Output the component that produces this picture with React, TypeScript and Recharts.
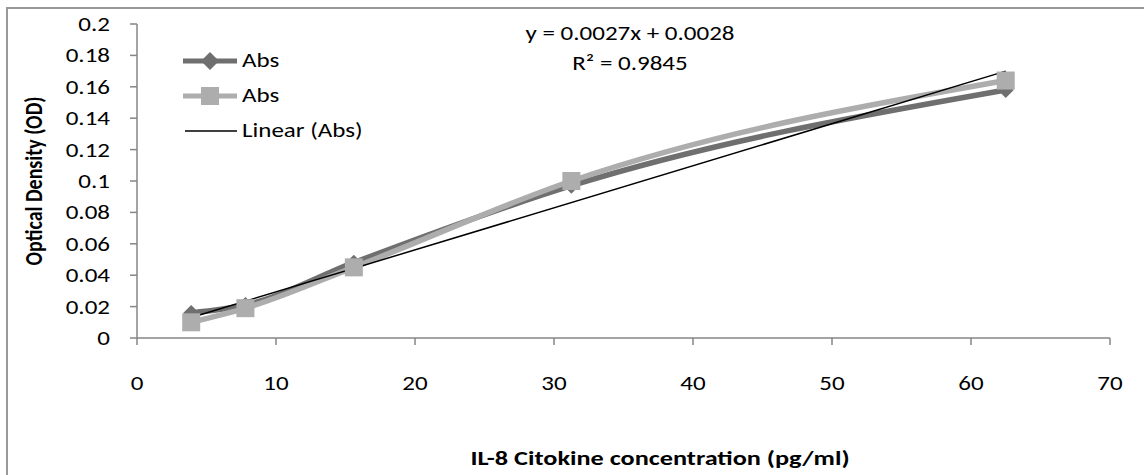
import { LineChart, Line, XAxis, YAxis } from 'recharts';

// concentrations (pg/ml)
const conc = [3.9, 7.8, 15.6, 31.25, 62.5];
// optical density readings
const absA = [0.016, 0.021, 0.048, 0.097, 0.158];
const absB = [0.010, 0.019, 0.045, 0.100, 0.164];
// trend line endpoints as drawn
const trendX = [3.9, 62.5];
const trendY = [0.013, 0.170];

const xTicks = [0, 10, 20, 30, 40, 50, 60, 70];
const yTicks = [0, 0.02, 0.04, 0.06, 0.08, 0.1, 0.12, 0.14, 0.16, 0.18, 0.2];

const seriesA = conc.map((x, i) => ({ x, y: absA[i] }));
const seriesB = conc.map((x, i) => ({ x, y: absB[i] }));
const trend = trendX.map((x, i) => ({ x, y: trendY[i] }));

const DARK = '#6f6f6f';
const LIGHT = '#adadad';
const FONT = 'Carlito, Calibri, Lato, sans-serif';
const SX = 1.25; // text in the original is stretched a bit horizontally

const Diamond = (props: any) => {
  const { cx, cy } = props;
  if (cx == null || cy == null) return null;
  const r = 8;
  return (
    <polygon
      points={`${cx},${cy - r} ${cx + r},${cy} ${cx},${cy + r} ${cx - r},${cy}`}
      fill={DARK}
    />
  );
};

const Square = (props: any) => {
  const { cx, cy } = props;
  if (cx == null || cy == null) return null;
  const s = 18;
  return <rect x={cx - s / 2} y={cy - s / 2} width={s} height={s} fill={LIGHT} />;
};

const fmtY = (v: number) => (v === 0 ? '0' : String(parseFloat(v.toFixed(2))));

const YTick = ({ x, y, payload }: any) => (
  <g transform={`translate(${x},${y})`}>
    <text transform={`scale(${SX},1)`} textAnchor="end" dy="0.35em" fontSize={20} fontFamily={FONT} fill="#000">
      {fmtY(payload.value)}
    </text>
  </g>
);

const XTick = ({ x, y, payload }: any) => (
  <g transform={`translate(${x},${y})`}>
    <text transform={`scale(${SX},1)`} textAnchor="middle" dy="0.35em" fontSize={20} fontFamily={FONT} fill="#000">
      {payload.value}
    </text>
  </g>
);

const stretched = (extra: any = {}) => ({
  display: 'inline-block',
  transform: `scaleX(${SX})`,
  transformOrigin: 'left center',
  ...extra,
});

const App = () => {
  return (
    <div style={{ position: 'absolute', left: 0, top: 0, width: 1144, height: 475, overflow: 'hidden', background: '#fff', fontFamily: FONT }}>
      {/* outer chart border */}
      <div style={{ position: 'absolute', left: 6, top: 7, width: 1300, height: 700, border: '2px solid #999' }} />

      <div style={{ position: 'absolute', left: 0, top: 0 }}>
        <LineChart width={1144} height={475} margin={{ top: 24, right: 34, bottom: 77, left: 0 }}>
          <XAxis
            type="number"
            dataKey="x"
            domain={[0, 70]}
            ticks={xTicks}
            allowDuplicatedCategory={false}
            height={60}
            tickSize={7}
            tickMargin={38}
            stroke="#868686"
            strokeWidth={1.5}
            tick={<XTick />}
          />
          <YAxis
            type="number"
            dataKey="y"
            domain={[0, 0.2]}
            ticks={yTicks}
            width={137}
            tickSize={7}
            tickMargin={20}
            stroke="#868686"
            strokeWidth={1.5}
            tick={<YTick />}
          />
          <Line
            data={seriesA}
            dataKey="y"
            type="monotone"
            stroke={DARK}
            strokeWidth={5.5}
            dot={<Diamond />}
            activeDot={false}
            isAnimationActive={false}
          />
          <Line
            data={seriesB}
            dataKey="y"
            type="monotone"
            stroke={LIGHT}
            strokeWidth={5.5}
            dot={<Square />}
            activeDot={false}
            isAnimationActive={false}
          />
          <Line
            data={trend}
            dataKey="y"
            type="linear"
            stroke="#000"
            strokeWidth={1.5}
            dot={false}
            activeDot={false}
            isAnimationActive={false}
          />
        </LineChart>
      </div>

      {/* y axis title */}
      <div
        style={{
          position: 'absolute', left: 33, top: 181,
          transform: `translate(-50%, -50%) scaleX(${SX}) rotate(-90deg)`,
          whiteSpace: 'nowrap', fontWeight: 'bold', fontSize: 20, color: '#000',
        }}
      >
        Optical Density (OD)
      </div>

      {/* x axis title */}
      <div
        style={{
          position: 'absolute', left: 660, top: 458,
          transform: `translate(-50%, -50%) scaleX(${SX})`,
          whiteSpace: 'nowrap', fontWeight: 'bold', fontSize: 21, color: '#000',
        }}
      >
        IL-8 Citokine concentration (pg/ml)
      </div>

      {/* trendline equation */}
      <div style={{ position: 'absolute', left: 630, top: 33, transform: `translate(-50%, -50%) scaleX(${SX})`, whiteSpace: 'nowrap', fontSize: 20 }}>
        y = 0.0027x + 0.0028
      </div>
      <div style={{ position: 'absolute', left: 630, top: 63, transform: `translate(-50%, -50%) scaleX(${SX})`, whiteSpace: 'nowrap', fontSize: 20 }}>
        R² = 0.9845
      </div>

      {/* legend */}
      <div style={{ position: 'absolute', left: 183, top: 43, fontSize: 20, lineHeight: '35px' }}>
        <div style={{ display: 'flex', alignItems: 'center', height: 35 }}>
          <svg width={56} height={24}>
            <line x1={0} y1={12} x2={54} y2={12} stroke={DARK} strokeWidth={5} />
            <polygon points="27,3 36,12 27,21 18,12" fill={DARK} />
          </svg>
          <span style={stretched({ marginLeft: 3 })}>Abs</span>
        </div>
        <div style={{ display: 'flex', alignItems: 'center', height: 35 }}>
          <svg width={56} height={24}>
            <line x1={0} y1={12} x2={54} y2={12} stroke={LIGHT} strokeWidth={5} />
            <rect x={18} y={3} width={18} height={18} fill={LIGHT} />
          </svg>
          <span style={stretched({ marginLeft: 3 })}>Abs</span>
        </div>
        <div style={{ display: 'flex', alignItems: 'center', height: 35 }}>
          <svg width={56} height={24}>
            <line x1={2} y1={12} x2={54} y2={12} stroke="#000" strokeWidth={1.5} />
          </svg>
          <span style={stretched({ marginLeft: 3 })}>Linear (Abs)</span>
        </div>
      </div>
    </div>
  );
};

export default App;
